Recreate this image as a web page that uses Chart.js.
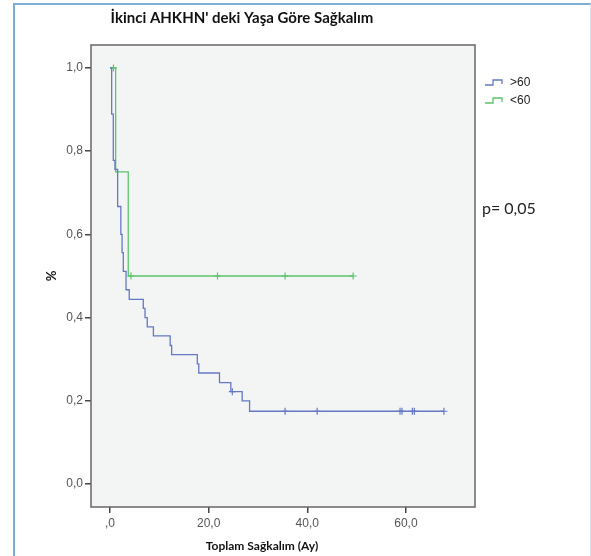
<!DOCTYPE html>
<html lang="tr">
<head>
<meta charset="UTF-8">
<title>Yaşa Göre Sağkalım</title>
<style>
  html, body { margin: 0; padding: 0; background: #fff; }
  #wrap { position: relative; width: 591px; height: 556px; overflow: hidden; }
  #frame { position: absolute; left: 13px; top: 3px; width: 575px; height: 560px;
           border-top: 2px solid #7aaed6; border-left: 2px solid #7aaed6; border-right: 1px solid #d5e3ef; }
  #chart { position: absolute; left: 0; top: 0; }
</style>
<script src="https://cdn.jsdelivr.net/npm/chart.js@4.4.0/dist/chart.umd.min.js"></script>
</head>
<body>
<div id="wrap">
  <div id="frame"></div>
  <canvas id="chart" width="591" height="556"></canvas>
</div>
<script>
// group names (legend)
const groupNames = ['>60', '<60'];

// >60 group: step times (months) and survival after each step
const overTimes = [0, 0.34, 0.67, 1.0, 1.55, 2.2, 2.45, 2.7, 3.25, 3.9, 6.75, 7.1, 7.55, 8.8, 12.2, 12.5, 17.7, 18.0, 22.2, 24.5, 26.8, 28.3, 67.7];
const overSurv  = [1, 0.889, 0.778, 0.756, 0.667, 0.600, 0.556, 0.511, 0.467, 0.444, 0.422, 0.400, 0.378, 0.356, 0.333, 0.311, 0.289, 0.267, 0.244, 0.222, 0.200, 0.175, 0.175];
// >60 censored cases
const overCensorTimes = [24.8, 35.5, 42.0, 58.8, 59.2, 61.3, 61.7, 67.7];
const overCensorSurv  = [0.222, 0.175, 0.175, 0.175, 0.175, 0.175, 0.175, 0.175];

// <60 group
const underTimes = [0, 1.15, 3.7, 49.3];
const underSurv  = [1, 0.75, 0.5, 0.5];
const underCensorTimes = [0.7, 4.25, 21.8, 35.5, 49.3];
const underCensorSurv  = [1, 0.5, 0.5, 0.5, 0.5];

// axes
const xTicks = [0, 20, 40, 60];
const xTickLabels = [',0', '20,0', '40,0', '60,0'];
const yTicks = [0, 0.2, 0.4, 0.6, 0.8, 1.0];
const yTickLabels = ['0,0', '0,2', '0,4', '0,6', '0,8', '1,0'];

const pValueText = 'p= 0,05';

const blue = '#6478c4';
const green = '#5cc46b';

function pts(xs, ys) {
  return xs.map((x, i) => ({x: x, y: ys[i]}));
}

const tickFont = {family: "'Liberation Sans Narrow', 'Liberation Sans', Arial, sans-serif", size: 12};

// plot background + frame
const plotBox = {
  id: 'plotBox',
  beforeDraw(chart) {
    const a = chart.chartArea, ctx = chart.ctx;
    ctx.save();
    ctx.fillStyle = '#f3f5f5';
    ctx.fillRect(a.left, a.top, a.right - a.left, a.bottom - a.top);
    ctx.restore();
  },
  afterDraw(chart) {
    const a = chart.chartArea, ctx = chart.ctx;
    ctx.save();
    ctx.strokeStyle = '#666';
    ctx.lineWidth = 1.5;
    ctx.strokeRect(a.left, a.top, a.right - a.left, a.bottom - a.top);
    ctx.restore();
  }
};

// x axis title, legend, p value
const extras = {
  id: 'extras',
  afterDraw(chart) {
    const a = chart.chartArea, ctx = chart.ctx;
    ctx.save();
    ctx.fillStyle = '#111';
    ctx.font = 'bold 12px Lato, sans-serif';
    ctx.textAlign = 'center';
    ctx.textBaseline = 'middle';
    ctx.fillText('Toplam Sağkalım (Ay)', 262, 546);

    // legend
    const cols = [blue, green];
    groupNames.forEach((name, i) => {
      const y = 84 + i * 18;
      const x = a.right + 10;
      ctx.strokeStyle = cols[i];
      ctx.lineWidth = 1.3;
      ctx.beginPath();
      ctx.moveTo(x, y + 1);
      ctx.lineTo(x + 8, y + 1);
      ctx.lineTo(x + 8, y - 4);
      ctx.lineTo(x + 17, y - 4);
      ctx.lineTo(x + 17, y);
      ctx.stroke();
      ctx.fillStyle = '#222';
      ctx.font = '12px "Liberation Sans", Arial, sans-serif';
      ctx.textAlign = 'left';
      ctx.fillText(name, x + 25, y - 1);
    });

    ctx.fillStyle = '#222';
    ctx.font = '16px Lato, sans-serif';
    ctx.textAlign = 'left';
    ctx.fillText(pValueText, a.right + 7, 209);
    ctx.restore();
  }
};

const ctx = document.getElementById('chart').getContext('2d');
const myChart = new Chart(ctx, {
  type: 'line',
  data: {
    datasets: [
      {label: groupNames[0], data: pts(overTimes, overSurv), stepped: true,
       borderColor: blue, borderWidth: 1.3, pointRadius: 0, fill: false},
      {label: groupNames[1], data: pts(underTimes, underSurv), stepped: true,
       borderColor: green, borderWidth: 1.3, pointRadius: 0, fill: false},
      {label: groupNames[0] + ' censor', data: pts(overCensorTimes, overCensorSurv), showLine: false,
       pointStyle: 'cross', pointRadius: 3.5, borderColor: blue, borderWidth: 1.2},
      {label: groupNames[1] + ' censor', data: pts(underCensorTimes, underCensorSurv), showLine: false,
       pointStyle: 'cross', pointRadius: 3.5, borderColor: green, borderWidth: 1.2}
    ]
  },
  options: {
    responsive: false,
    animation: false,
    layout: {padding: {left: 9, right: 116, top: 0, bottom: 0}},
    plugins: {
      legend: {display: false},
      tooltip: {enabled: false},
      title: {
        display: true,
        text: "İkinci AHKHN' deki Yaşa Göre Sağkalım",
        color: '#111',
        font: {family: 'Lato, sans-serif', size: 15, weight: 'bold'},
        padding: {top: 9, bottom: 18}
      }
    },
    scales: {
      x: {
        type: 'linear',
        min: -3.85,
        max: 74,
        afterBuildTicks: s => { s.ticks = xTicks.map(v => ({value: v})); },
        afterFit: s => { s.height = 49; },
        ticks: {
          callback: v => xTickLabels[xTicks.indexOf(v)],
          font: tickFont, color: '#555', padding: 3, maxRotation: 0, autoSkip: false
        },
        grid: {drawOnChartArea: false, drawTicks: true, tickLength: 6, color: '#444', lineWidth: 1.5},
        border: {display: false}
      },
      y: {
        type: 'linear',
        min: -0.055,
        max: 1.055,
        afterBuildTicks: s => { s.ticks = yTicks.map(v => ({value: v})); },
        afterFit: s => { s.width = 82; },
        ticks: {
          callback: v => yTickLabels[yTicks.indexOf(v)],
          font: tickFont, color: '#555', padding: 2, autoSkip: false
        },
        grid: {drawOnChartArea: false, drawTicks: true, tickLength: 6, color: '#444', lineWidth: 1.5},
        border: {display: false},
        title: {
          display: true, text: '%', color: '#111',
          font: {family: 'Lato, sans-serif', size: 13, weight: 'bold'},
          padding: {top: 35, bottom: 0}
        }
      }
    }
  },
  plugins: [plotBox, extras]
});
</script>
</body>
</html>
